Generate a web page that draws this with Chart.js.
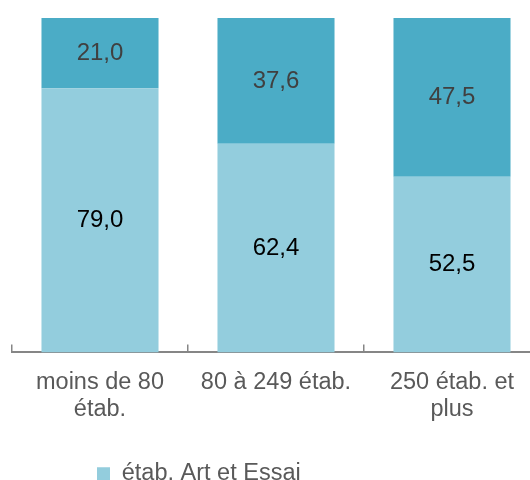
<!DOCTYPE html>
<html>
<head>
<meta charset="utf-8">
<script src="https://cdn.jsdelivr.net/npm/chart.js"></script>
<style>
  html, body { margin: 0; padding: 0; background: #fff; overflow: hidden; }
  /* l'axe de l'original dépasse le bord droit : canevas un peu plus large que la fenêtre */
  #wrap { width: 540px; height: 480px; position: relative; }
</style>
</head>
<body>
<div id="wrap"><canvas id="chart"></canvas></div>
<script>
const categories = [['moins de 80', 'étab.'], ['80 à 249 étab.'], ['250 étab. et', 'plus']];
const artEssai = [79.0, 62.4, 52.5];
const autres = [21.0, 37.6, 47.5];
const seriesNames = ['étab. Art et Essai', 'autres étab.'];

const FONT = '"Liberation Sans", Arial, sans-serif';

// valeurs au centre de chaque segment, virgule décimale comme dans l'original
const barValues = {
    id: 'barValues',
    afterDatasetsDraw(chart) {
        const ctx = chart.ctx;
        ctx.save();
        ctx.font = '24px ' + FONT;
        ctx.textAlign = 'center';
        ctx.textBaseline = 'middle';
        chart.data.datasets.forEach((ds, i) => {
            const meta = chart.getDatasetMeta(i);
            ctx.fillStyle = ds.valueColor;
            meta.data.forEach((bar, j) => {
                const p = bar.getProps(['x', 'y', 'base'], true);
                ctx.fillText(ds.data[j].toFixed(1).replace('.', ','), p.x, (p.y + p.base) / 2);
            });
        });
        ctx.restore();
    }
};

// la légende d'origine n'est pas centrée : on la place à la main
const legendPlace = {
    id: 'legendPlace',
    afterLayout(chart) {
        const lg = chart.legend;
        const pad = lg.options.labels.padding;
        const h = lg.bottom - lg.top;
        const w = lg.right - lg.left;
        lg.left = 97 - pad; lg.right = lg.left + w;
        lg.top = 462 - pad; lg.bottom = lg.top + h;
    }
};

new Chart(document.getElementById('chart').getContext('2d'), {
    type: 'bar',
    data: {
        labels: categories,
        datasets: [
            { label: seriesNames[0], data: artEssai, backgroundColor: '#93CDDD', valueColor: '#000000' },
            { label: seriesNames[1], data: autres, backgroundColor: '#4BACC6', valueColor: '#404040' }
        ]
    },
    options: {
        responsive: true,
        maintainAspectRatio: false,
        animation: false,
        layout: { padding: { left: 12, right: 0, top: 18, bottom: -6 } },
        datasets: { bar: { barPercentage: 0.665, categoryPercentage: 1 } },
        scales: {
            x: {
                stacked: true,
                grid: { display: true, drawOnChartArea: false, drawTicks: true, tickLength: -8, color: '#868686', lineWidth: 1.5 },
                border: { display: true, color: '#868686', width: 2 },
                ticks: { color: '#595959', font: { family: FONT, size: 23.5, lineHeight: 1.15 }, padding: 25, maxRotation: 0 }
            },
            y: { stacked: true, display: false, min: 0, max: 100 }
        },
        plugins: {
            legend: {
                position: 'bottom',
                align: 'start',
                labels: {
                    filter: item => item.datasetIndex === 0,
                    boxWidth: 13, boxHeight: 13, padding: 4,
                    color: '#595959',
                    font: { family: FONT, size: 23.5 }
                }
            },
            tooltip: { enabled: false }
        }
    },
    plugins: [barValues, legendPlace]
});
</script>
</body>
</html>
